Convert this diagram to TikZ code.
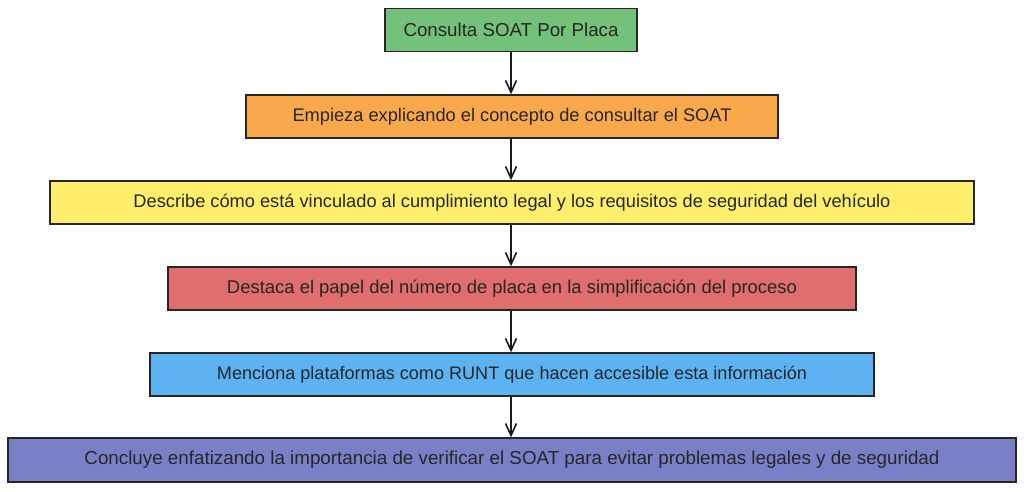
\documentclass[tikz,border=0pt]{standalone}
\usepackage{fontspec}
\setmainfont{Liberation Sans}
\usetikzlibrary{arrows.meta}
\definecolor{boxgreen}{HTML}{74C27A}
\definecolor{boxorange}{HTML}{F9A94B}
\definecolor{boxyellow}{HTML}{FDEF6C}
\definecolor{boxred}{HTML}{E06E6E}
\definecolor{boxblue}{HTML}{5DB3F2}
\definecolor{boxpurple}{HTML}{7A80C8}
\newcommand{\fitw}[2]{\resizebox{#1}{!}{#2}}
\begin{document}
\begin{tikzpicture}[x=1pt,y=-1pt,
  box/.style={draw=black!85, line width=1.4pt, minimum height=43pt, inner sep=0pt, text=black!85},
  arr/.style={-{Straight Barb[length=12pt,width=11pt]}, line width=1.6pt, black!90}]
\useasboundingbox (0,0) rectangle (1024,491);
\node[box, fill=boxgreen, minimum width=252pt] (n1) at (511,30) {\fitw{215pt}{Consulta SOAT Por Placa}};
\node[box, fill=boxorange, minimum width=532pt] (n2) at (512,116.5) {\fitw{439pt}{Empieza explicando el concepto de consultar el SOAT}};
\node[box, fill=boxyellow, minimum width=924pt] (n3) at (512,202.5) {\fitw{757pt}{Describe cómo está vinculado al cumplimiento legal y los requisitos de seguridad del vehículo}};
\node[box, fill=boxred, minimum width=688pt] (n4) at (512,288.5) {\fitw{570pt}{Destaca el papel del número de placa en la simplificación del proceso}};
\node[box, fill=boxblue, minimum width=724pt] (n5) at (512,374.5) {\fitw{590pt}{Menciona plataformas como RUNT que hacen accesible esta información}};
\node[box, fill=boxpurple, minimum width=1008pt, minimum height=44pt] (n6) at (512,460) {\fitw{855pt}{Concluye enfatizando la importancia de verificar el SOAT para evitar problemas legales y de seguridad}};
\draw[arr] (n1.south) -- (n1.south |- n2.north);
\draw[arr] (n1.south |- n2.south) -- (n1.south |- n3.north);
\draw[arr] (n1.south |- n3.south) -- (n1.south |- n4.north);
\draw[arr] (n1.south |- n4.south) -- (n1.south |- n5.north);
\draw[arr] (n1.south |- n5.south) -- (n1.south |- n6.north);
\end{tikzpicture}
\end{document}
